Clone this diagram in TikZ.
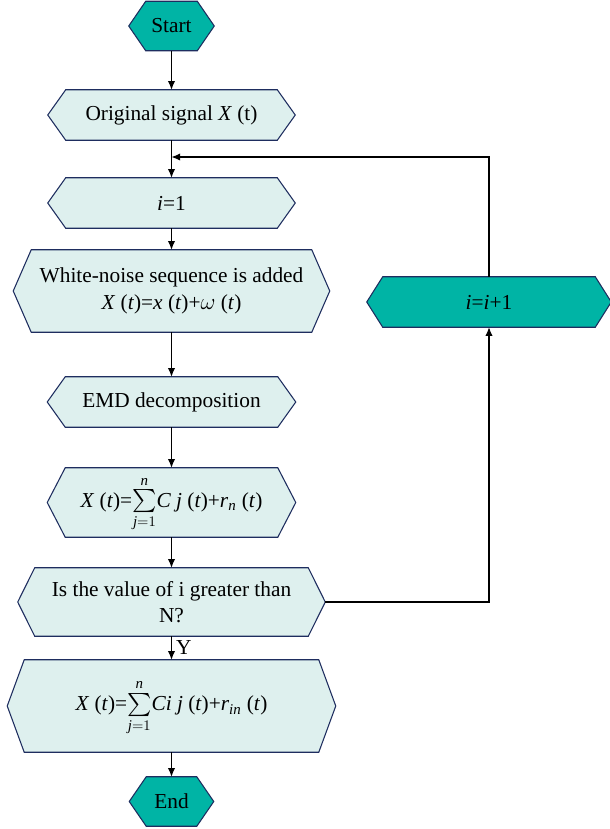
\documentclass[tikz,border=0pt]{standalone}
\usepackage{amsmath}
\usepackage{fontspec}
\setmainfont{Liberation Serif}
\usetikzlibrary{arrows.meta,backgrounds}
\definecolor{boxfill}{RGB}{222,240,238}
\definecolor{tealfill}{RGB}{0,180,165}
\definecolor{boxline}{RGB}{30,45,95}
\newdimen\pxu \pxu=0.75pt
% hexagonal outline behind a rectangular node: name, tip inset, fill colour
\newcommand\drawhex[3]{%
  \filldraw[fill=#3, draw=boxline, line width=0.8pt]
    ([xshift=#2\pxu]#1.north west) -- ([xshift=-#2\pxu]#1.north east) -- (#1.east)
    -- ([xshift=-#2\pxu]#1.south east) -- ([xshift=#2\pxu]#1.south west) -- (#1.west) -- cycle;}
% summation with limits set above and below
\newcommand\sumjn{$\mathop{\textstyle\sum}\limits_{\textit{j}=1}^{\textit{n}\vphantom{A}}$}
\begin{document}
\begin{tikzpicture}[x=0.75pt,y=-0.75pt,
  flowbox/.style={rectangle, draw=none, inner sep=0pt, align=center,
    font=\fontsize{16}{20}\selectfont},
  flow/.style={draw=black, line width=0.8pt, -{Latex[length=6.5pt,width=5.5pt]}},
  plain/.style={draw=black, line width=0.8pt}]
\useasboundingbox (0,0) rectangle (610,829);

% main column
\node[flowbox, minimum width=85\pxu, minimum height=49\pxu] (start) at (171.5,26) {Start};
\node[flowbox, minimum width=247\pxu, minimum height=50\pxu] (orig) at (171.5,115) {Original signal \textit{X} (t)};
\node[flowbox, minimum width=247\pxu, minimum height=50\pxu] (ione) at (171.5,203) {\textit{i}=1};
\node[flowbox, minimum width=316\pxu, minimum height=82\pxu] (noise) at (171.5,291)
  {White-noise sequence is added\\ \textit{X} (\textit{t})=\textit{x} (\textit{t})+$\omega$ (\textit{t})};
\node[flowbox, minimum width=248\pxu, minimum height=50\pxu] (emd) at (171.5,402) {EMD decomposition};
\node[flowbox, minimum width=248\pxu, minimum height=69\pxu] (sumn) at (171.5,502.5)
  {\textit{X} (\textit{t})=\sumjn\textit{C j} (\textit{t})+\textit{r}$_{\textit{n}}$ (\textit{t})};
\node[flowbox, minimum width=307\pxu, minimum height=68\pxu] (dec) at (171.5,602)
  {Is the value of i greater than\\ N?};
\node[flowbox, minimum width=328\pxu, minimum height=92\pxu] (final) at (171.5,706)
  {\textit{X} (\textit{t})=\sumjn\textit{Ci j} (\textit{t})+\textit{r}$_{\textit{in}}$ (\textit{t})};
\node[flowbox, minimum width=84\pxu, minimum height=49\pxu] (end) at (171.5,801.5) {End};

% loop branch
\node[flowbox, minimum width=244\pxu, minimum height=50\pxu] (incr) at (489,302) {\textit{i}=\textit{i}+1};
\coordinate (join) at (171.5,157);

\begin{scope}[on background layer]
  \drawhex{start}{17}{tealfill}
  \drawhex{orig}{18}{boxfill}
  \drawhex{ione}{18}{boxfill}
  \drawhex{noise}{18}{boxfill}
  \drawhex{emd}{18}{boxfill}
  \drawhex{sumn}{18}{boxfill}
  \drawhex{dec}{17}{boxfill}
  \drawhex{final}{17}{boxfill}
  \drawhex{end}{17}{tealfill}
  \drawhex{incr}{16}{tealfill}
\end{scope}

% connectors
\draw[flow] (start) -- (orig);
\draw[flow] (orig) -- (ione);
\draw[flow] (ione) -- (noise);
\draw[flow] (noise) -- (emd);
\draw[flow] (emd) -- (sumn);
\draw[flow] (sumn) -- (dec);
\draw[flow] (dec) -- node[right, inner sep=3pt, font=\fontsize{16}{20}\selectfont] {Y} (final);
\draw[flow] (final) -- (end);
\draw[flow] (dec.east) -| (incr.south);
\draw[flow] (incr.north) |- (join);
\end{tikzpicture}
\end{document}
